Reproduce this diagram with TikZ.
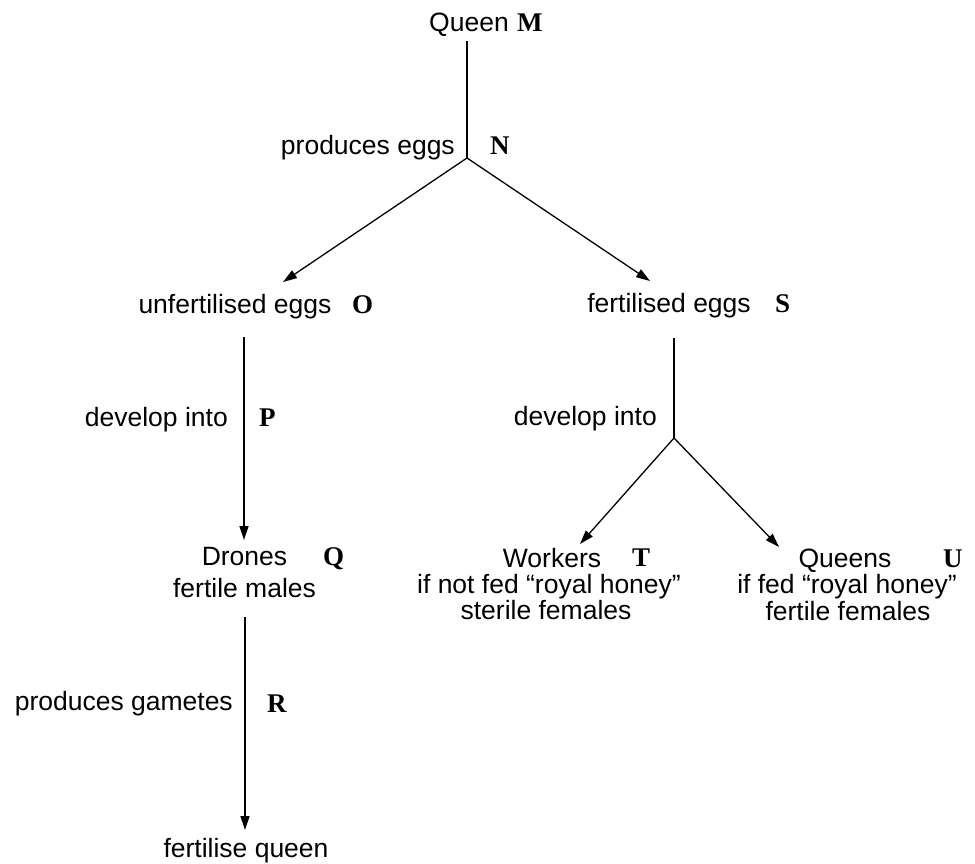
\documentclass[tikz,border=0pt]{standalone}
\usepackage{fontspec}
\newfontfamily\sansf{Liberation Sans}
\newfontfamily\serbf{Liberation Serif}
\usetikzlibrary{arrows.meta,calc}
\tikzset{
  txt/.style={font=\sansf\fontsize{26.5}{26.5}\selectfont, inner sep=0pt, anchor=base},
  lbl/.style={font=\serbf\bfseries\fontsize{27}{27}\selectfont, inner sep=0pt, anchor=base west},
  ln/.style={line width=1.3pt, black},
  arr/.style={ln, -{Triangle[length=14pt,width=9pt]}}
}
\begin{document}
\begin{tikzpicture}[x=1pt,y=-1pt]
\useasboundingbox (0,0) rectangle (975,864);
% nodes
\node[txt] (queen) at (469,32) {Queen};
\node[lbl] (M) at (517,32) {M};
\node[txt,anchor=base east] (peggs) at (455,155) {produces eggs};
\node[lbl] (N) at (490,155) {N};
\coordinate (j1) at (467,158);
\node[txt] (ueggs) at (235,313) {unfertilised eggs};
\node[lbl] (O) at (352,313) {O};
\node[txt] (feggs) at (669,312) {fertilised eggs};
\node[lbl] (S) at (775,312) {S};
\node[txt,anchor=base east] (dev1) at (228,426) {develop into};
\node[lbl] (P) at (259,426) {P};
\node[txt,anchor=base east] (dev2) at (657,425) {develop into};
\coordinate (j2) at (674,438);
\node[txt] (drones1) at (244.5,565) {Drones};
\node[txt] (drones2) at (244.5,597) {fertile males};
\node[lbl] (Q) at (323,565) {Q};
\node[txt,anchor=base east] (gam) at (233,710) {produces gametes};
\node[lbl] (R) at (267,712) {R};
\node[txt] (fq) at (246,857) {fertilise queen};
\node[txt] (work1) at (552,567) {Workers};
\node[txt] (work2) at (549,593) {if not fed “royal honey”};
\node[txt] (work3) at (546,619) {sterile females};
\node[lbl] (T) at (632,566) {T};
\node[txt] (queens1) at (845,567) {Queens};
\node[txt] (queens2) at (847,593) {if fed “royal honey”};
\node[txt] (queens3) at (848,620) {fertile females};
\node[lbl] (U) at (943,567) {U};
% connectors
\draw[ln] ($(queen.base)+(-2,9)$) -- (j1);
\draw[arr] (j1) -- ($(ueggs.base)+(48,-31)$);
\draw[arr] (j1) -- ($(feggs.base)+(-19,-31)$);
\draw[arr] ($(ueggs.base)+(9,24)$) -- ($(drones1.base)+(-0.5,-25)$);
\draw[ln] ($(feggs.base)+(5,26)$) -- (j2);
\draw[arr] (j2) -- ($(work1.base)+(28,-23)$);
\draw[arr] (j2) -- ($(queens1.base)+(-66,-20)$);
\draw[arr] ($(drones2.base)+(0.5,20)$) -- ($(fq.base)+(-1,-27)$);
\end{tikzpicture}
\end{document}
